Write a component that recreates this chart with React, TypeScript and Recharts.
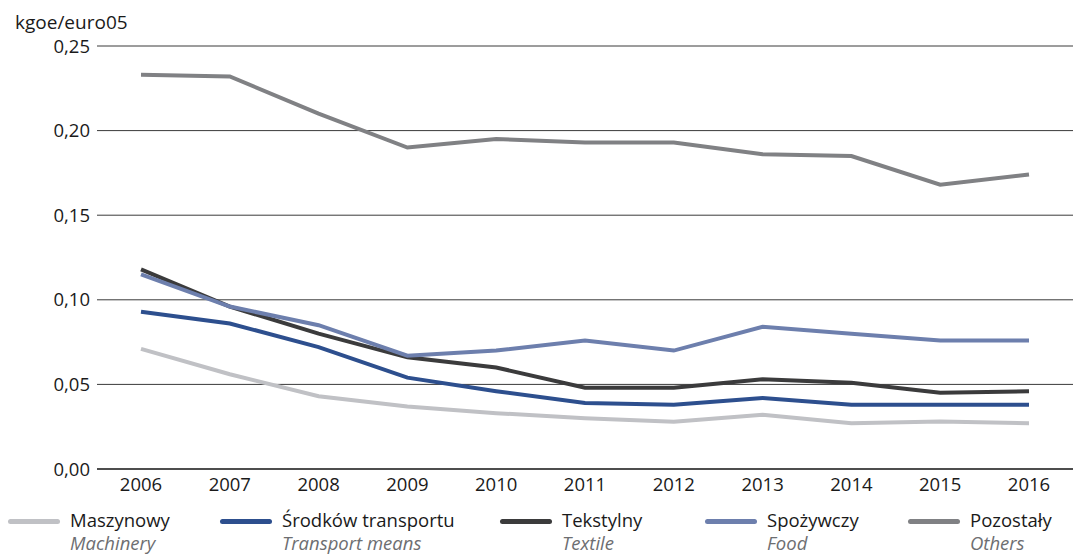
import React from 'react';
import { LineChart, Line, XAxis, YAxis, CartesianGrid, Legend } from 'recharts';

const years = ['2006', '2007', '2008', '2009', '2010', '2011', '2012', '2013', '2014', '2015', '2016'];
const maszynowy = [0.071, 0.056, 0.043, 0.037, 0.033, 0.030, 0.028, 0.032, 0.027, 0.028, 0.027];
const transport = [0.093, 0.086, 0.072, 0.054, 0.046, 0.039, 0.038, 0.042, 0.038, 0.038, 0.038];
const tekstylny = [0.118, 0.096, 0.080, 0.066, 0.060, 0.048, 0.048, 0.053, 0.051, 0.045, 0.046];
const spozywczy = [0.115, 0.096, 0.085, 0.067, 0.070, 0.076, 0.070, 0.084, 0.080, 0.076, 0.076];
const pozostaly = [0.233, 0.232, 0.210, 0.190, 0.195, 0.193, 0.193, 0.186, 0.185, 0.168, 0.174];
const yTicks = [0, 0.05, 0.1, 0.15, 0.2, 0.25];

const series = [
  { key: 'maszynowy', name: 'Maszynowy', en: 'Machinery', color: '#c0c1c5', x: 8 },
  { key: 'transport', name: 'Środków transportu', en: 'Transport means', color: '#2d4f8e', x: 220 },
  { key: 'tekstylny', name: 'Tekstylny', en: 'Textile', color: '#3b3b3c', x: 500 },
  { key: 'spozywczy', name: 'Spożywczy', en: 'Food', color: '#6d7fad', x: 705 },
  { key: 'pozostaly', name: 'Pozostały', en: 'Others', color: '#808184', x: 908 },
];

const data = years.map((year, i) => ({
  year,
  maszynowy: maszynowy[i],
  transport: transport[i],
  tekstylny: tekstylny[i],
  spozywczy: spozywczy[i],
  pozostaly: pozostaly[i],
}));

const font = '"Open Sans", "Noto Sans", sans-serif';

function LegendBox() {
  return (
    <div style={{ position: 'relative', width: 1075, height: 50, fontFamily: font }}>
      {series.map((s) => (
        <div key={s.key} style={{ position: 'absolute', left: s.x, top: 0 }}>
          <div style={{ position: 'absolute', left: 0, top: 15, width: 52, height: 5, borderRadius: 3, background: s.color }} />
          <div style={{ position: 'absolute', left: 62, top: 6, whiteSpace: 'nowrap', fontSize: 18.5, color: '#1a1a1a', lineHeight: '20px' }}>{s.name}</div>
          <div style={{ position: 'absolute', left: 62, top: 29, whiteSpace: 'nowrap', fontSize: 18.5, fontStyle: 'italic', color: '#6d6e71', lineHeight: '20px' }}>{s.en}</div>
        </div>
      ))}
    </div>
  );
}

export default function App() {
  return (
    <div style={{ position: 'absolute', left: 0, top: 0, width: 1075, height: 554, background: '#fff', overflow: 'hidden' }}>
      <div style={{ position: 'absolute', left: 15, top: 10, fontFamily: font, fontSize: 19, color: '#1a1a1a', lineHeight: '24px' }}>kgoe/euro05</div>
      <LineChart width={1075} height={554} data={data} margin={{ top: 46, right: 2, left: 0, bottom: 5 }}>
        <CartesianGrid vertical={false} stroke="#3a3a3a" strokeWidth={1} />
        <XAxis
          dataKey="year"
          padding={{ left: 44, right: 44 }}
          axisLine={{ stroke: '#4d4d4d', strokeWidth: 2 }}
          tickLine={false}
          tick={{ fill: '#1a1a1a', fontSize: 18.5, fontFamily: font }}
          tickMargin={3}
          height={30}
        />
        <YAxis
          width={97}
          domain={[0, 0.25]}
          ticks={yTicks}
          axisLine={false}
          tickLine={false}
          tickMargin={1}
          tickFormatter={(v: number) => v.toFixed(2).replace('.', ',')}
          tick={{ fill: '#1a1a1a', fontSize: 18.5, fontFamily: font }}
        />
        <Legend verticalAlign="bottom" height={50} content={() => <LegendBox />} wrapperStyle={{ left: 0, bottom: 0, width: 1075 }} />
        {series.map((s) => (
          <Line
            key={s.key}
            dataKey={s.key}
            name={s.name}
            stroke={s.color}
            strokeWidth={4}
            dot={false}
            activeDot={false}
            type="linear"
            isAnimationActive={false}
          />
        ))}
      </LineChart>
    </div>
  );
}
